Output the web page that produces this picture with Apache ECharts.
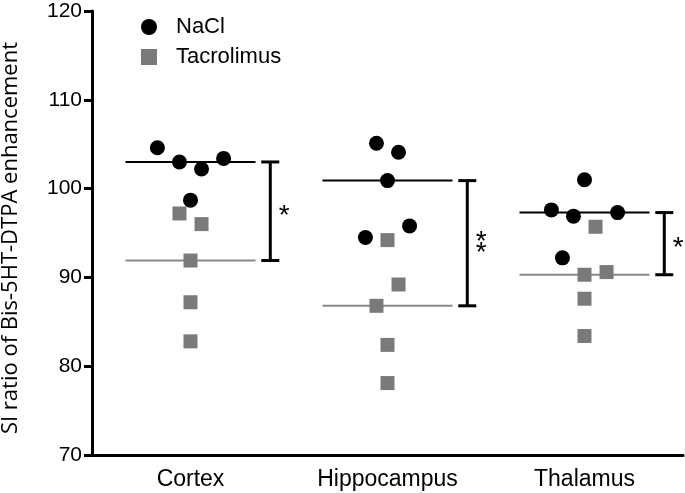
<!DOCTYPE html>
<html><head><meta charset="utf-8">
<script src="https://cdn.jsdelivr.net/npm/echarts@6/dist/echarts.min.js"></script>
<style>html,body{margin:0;padding:0;background:#fff}#c{width:685px;height:493px}</style>
</head><body><div id="c"></div>
<script>
const categories = ['Cortex', 'Hippocampus', 'Thalamus'];
const seriesNames = ['NaCl', 'Tacrolimus'];
const yTicks = [70, 80, 90, 100, 110, 120];
// values per region (5 animals each)
const naclCortex = [104.6, 103.0, 102.2, 103.4, 98.7];
const naclHippo = [105.1, 104.1, 100.9, 94.5, 95.8];
const naclThal = [101.0, 97.6, 96.9, 97.3, 92.2];
const tacCortex = [97.2, 96.0, 91.9, 87.2, 82.8];
const tacHippo = [94.2, 89.2, 86.8, 82.4, 78.1];
const tacThal = [95.7, 90.3, 90.6, 87.6, 83.4];
// horizontal jitter (in point widths) used by the original scatter layout
const jitNacl = [[-3, -1, 1, 3, 0], [-1, 1, 0, -2, 2], [0, -3, -1, 3, -2]];
const jitTac = [[-1, 1, 0, 0, 0], [0, 1, -1, 0, 0], [1, 0, 2, 0, 0]];
const sigLabels = ['*', '**', '*'];

const naclAll = [naclCortex, naclHippo, naclThal];
const tacAll = [tacCortex, tacHippo, tacThal];
const STEP = 0.056;
function median(a) { const s = a.slice().sort((x, y) => x - y); return s[Math.floor(s.length / 2)]; }
function pts(all, jit) {
  const out = [];
  all.forEach((vals, ci) => vals.forEach((v, i) => out.push([ci + jit[ci][i] * STEP, v])));
  return out;
}
const naclMed = naclAll.map((a, i) => [i, median(a)]);
const tacMed = tacAll.map((a, i) => [i, median(a)]);
const brackets = categories.map((c, i) => [i, median(naclAll[i]), median(tacAll[i])]);

const chart = echarts.init(document.getElementById('c'));
const FONT = 'Liberation Sans, Arial, sans-serif';
function medLine(color) {
  return function (params, api) {
    const c = api.value(0), y = api.value(1);
    const p1 = api.coord([c - 0.33, y]), p2 = api.coord([c + 0.33, y]);
    return { type: 'line', shape: { x1: p1[0], y1: p1[1], x2: p2[0], y2: p2[1] }, style: { stroke: color, lineWidth: 2 } };
  };
}
chart.setOption({
  animation: false,
  grid: { left: 92, right: 2, top: 11, bottom: 38, containLabel: false, outerBoundsMode: 'none' },
  legend: {
    left: 136, top: 11, orient: 'vertical', itemGap: 8, itemWidth: 16, itemHeight: 16,
    textStyle: { fontFamily: FONT, fontSize: 22, color: '#000', padding: [0, 0, 0, 14] },
    data: [{ name: 'NaCl', icon: 'circle' }, { name: 'Tacrolimus', icon: 'rect' }]
  },
  xAxis: [
    {
      type: 'category', data: categories, boundaryGap: true,
      axisLine: { lineStyle: { color: '#000', width: 3 } },
      axisTick: { alignWithLabel: true, length: 8, lineStyle: { color: '#000', width: 3 } },
      axisLabel: { fontFamily: FONT, fontSize: 23, color: '#000', margin: 13 },
      splitLine: { show: false }
    },
    { type: 'value', min: -0.5, max: 2.5, show: false }
  ],
  yAxis: {
    type: 'value', min: yTicks[0], max: yTicks[yTicks.length - 1], interval: 10,
    name: 'SI ratio of Bis-5HT-DTPA enhancement', nameLocation: 'middle', nameGap: 70,
    nameTextStyle: { fontFamily: 'Open Sans', fontSize: 22, color: '#000', padding: [0, 10, 0, 0] },
    axisLine: { show: true, onZero: false, lineStyle: { color: '#000', width: 3 } },
    axisTick: { show: true, length: 8, lineStyle: { color: '#000', width: 3 } },
    axisLabel: { fontFamily: FONT, fontSize: 21, color: '#000', margin: 10 },
    splitLine: { show: false }
  },
  series: [
    { type: 'custom', xAxisIndex: 1, renderItem: medLine('#000'), data: naclMed, z: 1, silent: true },
    { type: 'custom', xAxisIndex: 1, renderItem: medLine('#888'), data: tacMed, z: 1, silent: true },
    {
      name: seriesNames[0], type: 'scatter', xAxisIndex: 1, symbol: 'circle', symbolSize: 15,
      itemStyle: { color: '#000', opacity: 1 }, data: pts(naclAll, jitNacl), z: 3
    },
    {
      name: seriesNames[1], type: 'scatter', xAxisIndex: 1, symbol: 'rect', symbolSize: 14,
      itemStyle: { color: '#7a7a7a', opacity: 1 }, data: pts(tacAll, jitTac), z: 2
    },
    {
      type: 'custom', xAxisIndex: 1, silent: true, data: brackets,
      renderItem: function (params, api) {
        const c = api.value(0) + 0.405;
        const top = api.coord([c, api.value(1)]), bot = api.coord([c, api.value(2)]);
        const x = top[0], cap = 9;
        const lab = sigLabels[params.dataIndex].split('').join('\n');
        const st = { stroke: '#000', lineWidth: 3 };
        return {
          type: 'group', children: [
            { type: 'line', shape: { x1: x, y1: top[1], x2: x, y2: bot[1] }, style: st },
            { type: 'line', shape: { x1: x - cap, y1: top[1], x2: x + cap, y2: top[1] }, style: st },
            { type: 'line', shape: { x1: x - cap, y1: bot[1], x2: x + cap, y2: bot[1] }, style: st },
            {
              type: 'text', x: x + 14, y: (top[1] + bot[1]) / 2 + 5,
              style: { text: lab, fill: '#000', font: '28px ' + FONT, lineHeight: 11, align: 'center', verticalAlign: 'middle' }
            }
          ]
        };
      }
    }
  ]
});
</script></body></html>
